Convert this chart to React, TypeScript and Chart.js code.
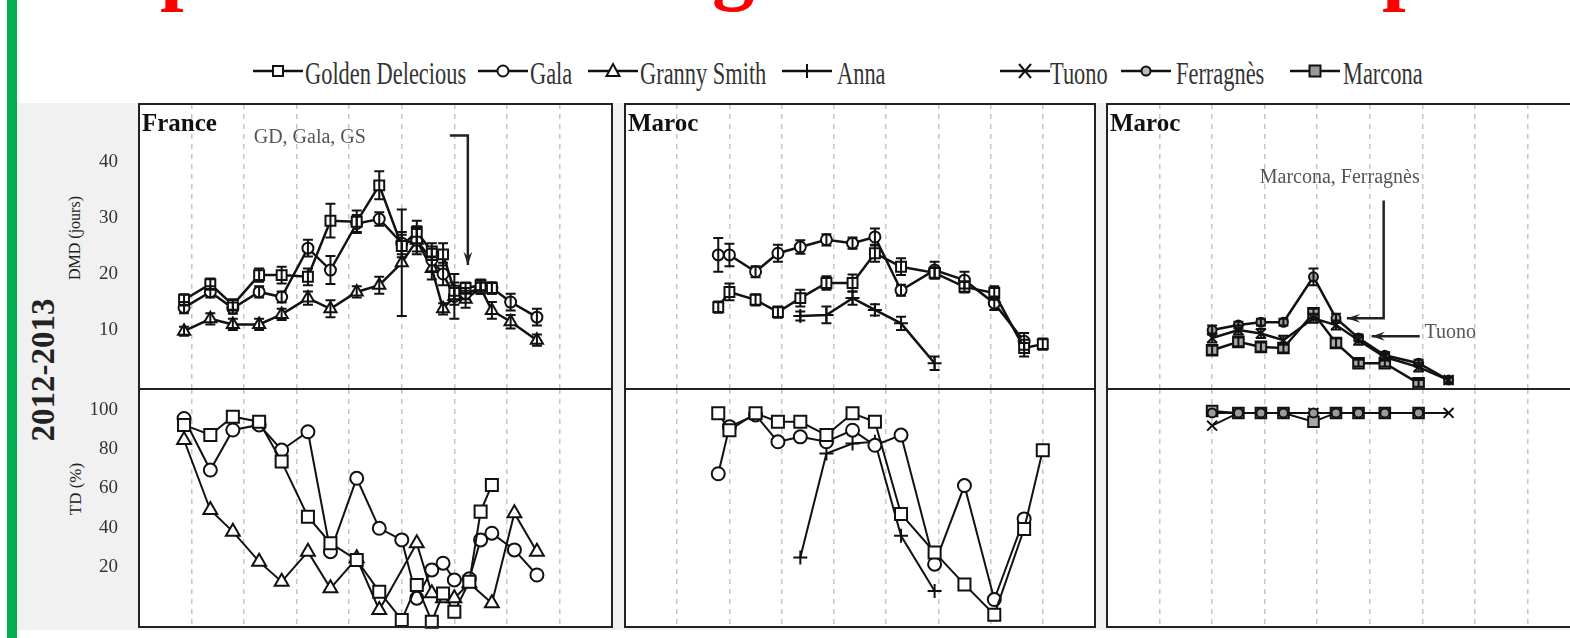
import React, { useEffect, useRef } from "react";
import { Chart, registerables } from "chart.js";

Chart.register(...registerables);
Chart.defaults.font.family = '"Liberation Serif", "Times New Roman", serif';

// ---------- x positions (days) ----------
const FR_DAYS = [12, 19, 25, 32, 38, 45, 51, 58, 64, 70, 74, 78, 81, 84, 87, 91, 94, 99, 106];
const MA_DAYS = [25, 28, 35, 41, 47, 54, 61, 67, 74, 83, 91, 99, 107, 112];
const AL_DAYS = [28, 35, 41, 47, 55, 61, 67, 74, 83, 91];

// ---------- France DMD (jours) ----------
const FR_DMD_GD = [15.4, 18.2, 14.5, 19.8, 19.8, 19.5, 29.5, 29.3, 35.8, 25, 27.5, 24, 23.5, 17, 17.5, 18, 17.5, null, null];
const FR_DMD_GD_ERR = [1, 1, 1, 1.2, 1.5, 1.5, 3, 2, 2.5, 2, 2, 1.5, 2, 1.5, 1, 1, 1, null, null];
const FR_DMD_GALA = [14, 16.8, 13.9, 16.8, 15.9, 24.6, 20.7, 29, 29.8, 25.5, 26, 22.5, 20, 16, 16.5, 17.5, 17.5, 15, 12.3];
const FR_DMD_GALA_ERR = [1, 1, 1, 1, 1, 1.5, 2.5, 1.5, 1.2, 2, 2, 2, 2, 1.5, 1, 1, 1, 1.5, 1.5];
const FR_DMD_GS = [9.8, 12, 11, 11, 12.8, 15.7, 13.8, 16.8, 18, 22, 26, 21, 13.8, 16, 15.5, 17.5, 13.5, 11.5, 8.2];
const FR_DMD_GS_ERR = [0.8, 1, 1, 1, 1, 1.2, 1.5, 1, 1.5, 9.5, 2.5, 2, 1, 4, 1.5, 1, 1.5, 1.2, 1];

// ---------- France TD (%) ----------
const FR_TD_DAYS = [12, 19, 25, 32, 38, 45, 51, 58, 64, 70, 74, 78, 81, 84, 88, 91, 94, 100, 106];
const FR_TD_GD = [92.4, 87.3, 96.6, 94, 73.7, 45.6, 32.1, 23.6, 7.4, -7, 10.8, -7.9, 6.5, -2.8, 12.5, 48.2, 61.8, null, null];
const FR_TD_GALA = [95.7, 69.4, 89.8, 92.4, 79.6, 88.9, 27.8, 65.2, 39.7, 33.8, 4.1, 18.5, 21.9, 13.4, 14, 33.8, 37.2, 28.7, 15.9];
const FR_TD_GS = [84.7, 49, 38, 22.7, 12.5, 27.8, 9.1, 24.4, -1.9, null, 32.1, 6.6, 4, 4.1, 11.7, null, 1.5, 47.4, 27.8];

// ---------- Maroc (pommier) DMD ----------
const MA_DMD_GD = [14.1, 16.8, 15.4, 13.2, 15.7, 18.4, 18.4, 23.7, 21.3, 20.2, 17.7, 16.6, 6.8, 7.5];
const MA_DMD_GD_ERR = [1, 1.5, 1, 1, 1.5, 1.2, 1.5, 1.5, 1.5, 1, 1, 1.2, 1.5, 1];
const MA_DMD_GALA = [23.4, 23.4, 20.4, 23.7, 24.8, 26.1, 25.5, 26.6, 17.1, 20.7, 18.9, 14.8, 8, null];
const MA_DMD_GALA_ERR = [3, 2, 1, 1.5, 1.2, 1, 1, 1.5, 1, 1.5, 1.5, 1.2, 1.5, null];
const MA_DMD_ANNA = [null, null, null, null, 12.5, 12.7, 15.7, 13.6, 11.2, 4.1, null, null, null, null];
const MA_DMD_ANNA_ERR = [null, null, null, null, 0.8, 1.5, 1.2, 1, 1.2, 1.2, null, null, null, null];

// ---------- Maroc (pommier) TD ----------
const MA_TD_GD = [98.3, 89.7, 98.3, 94, 94, 87.2, 98.3, 94, 47, 27.4, 11.1, -4.3, 39.3, 79.5];
const MA_TD_GALA = [67.5, 91.5, 97.5, 83.8, 86.3, 83.8, 89.7, 82, 87.2, 21.4, 61.5, 3.4, 44.5, null];
const MA_TD_ANNA = [null, null, null, null, 24.8, 77.8, 82.9, 83.8, 35.9, 7.7, null, null, null, null];

// ---------- Maroc (amandier) DMD ----------
const AL_DMD_TUONO = [8.6, 10, 9.4, 8.2, 12.1, 10.9, 8.2, 5.2, 3.4, 1.1];
const AL_DMD_TUONO_ERR = [0.8, 0.8, 0.8, 0.8, 0.8, 0.8, 0.8, 0.6, 0.8, 0.5];
const AL_DMD_FERR = [10, 10.9, 11.4, 11.4, 19.5, 12.1, 8.6, 5.5, 4.1, 1.1];
const AL_DMD_FERR_ERR = [0.8, 0.6, 0.6, 0.6, 1.5, 0.8, 0.6, 0.6, 0.6, 0.5];
const AL_DMD_MARC = [6.4, 7.9, 7, 6.8, 13, 7.7, 4.1, 4.1, 0.5, null];
const AL_DMD_MARC_ERR = [0.8, 0.8, 0.8, 0.8, 0.8, 0.8, 0.6, 0.6, 0.6, null];

// ---------- Maroc (amandier) TD ----------
const AL_TD_TUONO = [92, 98.5, 98.5, 98.5, 98.5, 98.5, 98.5, 98.5, 98.5, 98.5];
const AL_TD_FERR = [98.5, 98.5, 98.5, 98.5, 98.5, 98.5, 98.5, 98.5, 98.5, null];
const AL_TD_MARC = [99.5, 98.5, 98.5, 98.5, 94, 98.5, 98.5, 98.5, 98.5, null];

// ---------- axes ----------
const DMD_TICKS = [10, 20, 30, 40];
const TD_TICKS = [20, 40, 60, 80, 100];
const X_MAX = 126;
const X_STEP = 14;

// ---------- styles ----------
type Style = { pointStyle: any; r: number; bg: string };
const ST: Record<string, Style> = {
  gd: { pointStyle: "rect", r: 7, bg: "#fff" },
  gala: { pointStyle: "circle", r: 5.5, bg: "#fff" },
  gs: { pointStyle: "triangle", r: 7, bg: "#fff" },
  anna: { pointStyle: "cross", r: 7, bg: "#fff" },
  tuono: { pointStyle: "crossRot", r: 7, bg: "#fff" },
  ferr: { pointStyle: "circle", r: 4.5, bg: "#9a9a9a" },
  marc: { pointStyle: "rect", r: 7.5, bg: "#a8a8a8" },
};
const ST_TD: Record<string, Style> = {
  ...ST,
  gd: { pointStyle: "rect", r: 8.5, bg: "#fff" },
  gala: { pointStyle: "circle", r: 6.5, bg: "#fff" },
  gs: { pointStyle: "triangle", r: 8, bg: "#fff" },
};

function series(days: number[], vals: (number | null)[], errs: (number | null)[] | null, s: Style, lw: number) {
  const data: any[] = [];
  days.forEach((d, i) => {
    const v = vals[i];
    if (v === null || v === undefined) return;
    data.push({ x: d, y: v, e: errs ? errs[i] : null });
  });
  return {
    data,
    borderColor: "#111",
    borderWidth: lw,
    pointStyle: s.pointStyle,
    pointRadius: s.r,
    pointBackgroundColor: s.bg,
    pointBorderColor: "#111",
    pointBorderWidth: 2,
    tension: 0,
    clip: false as any,
  };
}

const errorBarPlugin = {
  id: "errorBars",
  afterDatasetsDraw(chart: any) {
    const ctx = chart.ctx;
    const xs = chart.scales.x;
    const ys = chart.scales.y;
    ctx.save();
    ctx.strokeStyle = "#111";
    ctx.lineWidth = 2;
    chart.data.datasets.forEach((ds: any) => {
      ds.data.forEach((p: any) => {
        if (p.e === null || p.e === undefined) return;
        const px = xs.getPixelForValue(p.x);
        const y1 = ys.getPixelForValue(p.y + p.e);
        const y2 = ys.getPixelForValue(p.y - p.e);
        ctx.beginPath();
        ctx.moveTo(px, y1);
        ctx.lineTo(px, y2);
        ctx.moveTo(px - 5, y1);
        ctx.lineTo(px + 5, y1);
        ctx.moveTo(px - 5, y2);
        ctx.lineTo(px + 5, y2);
        ctx.stroke();
      });
    });
    ctx.restore();
  },
};

type Note = { text: string; x: number; y: number; align: CanvasTextAlign };
type Arrow = number[][];

function makeDecor(label: string | null, notes: Note[], arrows: Arrow[]) {
  return {
    id: "decor",
    beforeDraw(chart: any) {
      const { ctx, chartArea: a } = chart;
      ctx.save();
      ctx.fillStyle = "#fff";
      ctx.fillRect(a.left, a.top, a.right - a.left, a.bottom - a.top);
      ctx.restore();
    },
    afterDraw(chart: any) {
      const { ctx, chartArea: a } = chart;
      const xs = chart.scales.x;
      const ys = chart.scales.y;
      ctx.save();
      ctx.strokeStyle = "#222";
      ctx.lineWidth = 2;
      ctx.strokeRect(a.left, a.top, a.right - a.left, a.bottom - a.top);
      if (label) {
        ctx.font = 'bold 25px "Liberation Serif"';
        ctx.fillStyle = "#111";
        ctx.textAlign = "left";
        ctx.textBaseline = "alphabetic";
        ctx.fillText(label, a.left + 3, a.top + 27);
      }
      notes.forEach((n) => {
        ctx.font = '20px "Liberation Serif"';
        ctx.fillStyle = "#555";
        ctx.textAlign = n.align;
        ctx.textBaseline = "middle";
        ctx.fillText(n.text, xs.getPixelForValue(n.x), ys.getPixelForValue(n.y));
      });
      arrows.forEach((ar) => {
        const pts = ar.map(([dx, dy]) => [xs.getPixelForValue(dx), ys.getPixelForValue(dy)]);
        ctx.strokeStyle = "#222";
        ctx.fillStyle = "#222";
        ctx.lineWidth = 2.5;
        ctx.beginPath();
        pts.forEach(([px, py], i) => (i ? ctx.lineTo(px, py) : ctx.moveTo(px, py)));
        ctx.stroke();
        const [x1, y1] = pts[pts.length - 2];
        const [x2, y2] = pts[pts.length - 1];
        const ang = Math.atan2(y2 - y1, x2 - x1);
        const L = 14;
        ctx.beginPath();
        ctx.moveTo(x2, y2);
        ctx.lineTo(x2 - L * Math.cos(ang - 0.32), y2 - L * Math.sin(ang - 0.32));
        ctx.lineTo(x2 - L * 0.6 * Math.cos(ang), y2 - L * 0.6 * Math.sin(ang));
        ctx.lineTo(x2 - L * Math.cos(ang + 0.32), y2 - L * Math.sin(ang + 0.32));
        ctx.closePath();
        ctx.fill();
      });
      ctx.restore();
    },
  };
}

const PAD = 3;

type SubProps = {
  left: number;
  top: number;
  width: number;
  height: number;
  axisW: number;
  yMin: number;
  yMax: number;
  ticks: number[];
  datasets: any[];
  label?: string | null;
  notes?: Note[];
  arrows?: Arrow[];
};

function SubChart(p: SubProps) {
  const ref = useRef<HTMLCanvasElement>(null);
  const cw = p.width + p.axisW + 2 * PAD;
  const ch = p.height + 2 * PAD;
  useEffect(() => {
    const chart = new Chart(ref.current as HTMLCanvasElement, {
      type: "line",
      data: { datasets: p.datasets },
      options: {
        responsive: false,
        animation: false,
        events: [],
        layout: { padding: PAD, autoPadding: false },
        plugins: { legend: { display: false }, tooltip: { enabled: false } },
        scales: {
          x: {
            type: "linear",
            min: 0,
            max: X_MAX,
            ticks: { display: false, stepSize: X_STEP },
            grid: { color: "#c6c6c6", lineWidth: 1.5, drawTicks: false },
            border: { display: false, dash: [5, 5] },
            afterFit: (s: any) => {
              s.height = 0;
              s.paddingLeft = 0;
              s.paddingRight = 0;
            },
          },
          y: {
            type: "linear",
            min: p.yMin,
            max: p.yMax,
            display: p.axisW > 0,
            ticks: { color: "#333", font: { size: 19 }, padding: 21 },
            afterBuildTicks: (s: any) => {
              s.ticks = p.ticks.map((v) => ({ value: v }));
            },
            afterFit: (s: any) => {
              s.width = p.axisW;
              s.paddingTop = 0;
              s.paddingBottom = 0;
            },
            grid: { display: false, drawTicks: false },
            border: { display: false },
          },
        },
      } as any,
      plugins: [errorBarPlugin, makeDecor(p.label || null, p.notes || [], p.arrows || [])],
    });
    return () => chart.destroy();
  }, []);
  return (
    <canvas
      ref={ref}
      width={cw}
      height={ch}
      style={{ position: "absolute", left: p.left - p.axisW - PAD, top: p.top - PAD, width: cw, height: ch }}
    />
  );
}

// ---------- legend ----------
function Marker({ kind }: { kind: string }) {
  const line = <line x1={0} y1={10} x2={50} y2={10} stroke="#111" strokeWidth={2.5} />;
  let m: any = null;
  if (kind === "gd") m = <rect x={20} y={5} width={10} height={10} fill="#fff" stroke="#111" strokeWidth={2} />;
  if (kind === "gala") m = <circle cx={25} cy={10} r={5.5} fill="#fff" stroke="#111" strokeWidth={2} />;
  if (kind === "gs") m = <polygon points="25,3 31.5,15 18.5,15" fill="#fff" stroke="#111" strokeWidth={2} />;
  if (kind === "anna") m = <line x1={25} y1={3} x2={25} y2={17} stroke="#111" strokeWidth={2} />;
  if (kind === "tuono")
    m = (
      <g stroke="#111" strokeWidth={2}>
        <line x1={19} y1={3} x2={31} y2={17} />
        <line x1={19} y1={17} x2={31} y2={3} />
      </g>
    );
  if (kind === "ferr") m = <circle cx={25} cy={10} r={4.5} fill="#bbb" stroke="#111" strokeWidth={2} />;
  if (kind === "marc") m = <rect x={19.5} y={4.5} width={11} height={11} fill="#999" stroke="#111" strokeWidth={2} />;
  return (
    <svg width={50} height={20} style={{ display: "block" }}>
      {line}
      {m}
    </svg>
  );
}

const LEGEND_NAMES = ["Golden Delecious", "Gala", "Granny Smith", "Anna", "Tuono", "Ferragnès", "Marcona"];
const LEGEND_KINDS = ["gd", "gala", "gs", "anna", "tuono", "ferr", "marc"];
const LEGEND_MARKER_X = [253, 478, 588, 782, 1000, 1121, 1290];
const LEGEND_TEXT_X = [305, 530, 640, 837, 1050, 1176, 1343];

function Legend() {
  return (
    <>
      {LEGEND_NAMES.map((name, i) => (
        <React.Fragment key={name}>
          <div style={{ position: "absolute", left: LEGEND_MARKER_X[i], top: 61 }}>
            <Marker kind={LEGEND_KINDS[i]} />
          </div>
          <div
            style={{
              position: "absolute",
              left: LEGEND_TEXT_X[i],
              top: 57,
              fontFamily: '"Liberation Serif"',
              fontSize: 32,
              lineHeight: "32px",
              color: "#333",
              whiteSpace: "nowrap",
              transform: "scaleX(0.7)",
              transformOrigin: "0 0",
            }}
          >
            {name}
          </div>
        </React.Fragment>
      ))}
    </>
  );
}

function RotText({ text, cx, cy, size, bold }: { text: string; cx: number; cy: number; size: number; bold?: boolean }) {
  return (
    <div
      style={{
        position: "absolute",
        left: cx,
        top: cy,
        transform: "translate(-50%, -50%) rotate(-90deg)",
        fontFamily: '"Liberation Serif"',
        fontSize: size,
        fontWeight: bold ? "bold" : "normal",
        color: "#222",
        whiteSpace: "nowrap",
        lineHeight: 1,
      }}
    >
      {text}
    </div>
  );
}

const TOP_Y = 104;
const TOP_H = 285;
const BOT_Y = 389;
const BOT_H = 238;
const DMD_MIN = -0.5;
const DMD_MAX = 50.3;
const TD_MIN = -10.6;
const TD_MAX = 110.7;

export default function App() {
  const frTop = [
    series(FR_DAYS, FR_DMD_GD, FR_DMD_GD_ERR, ST.gd, 2.5),
    series(FR_DAYS, FR_DMD_GALA, FR_DMD_GALA_ERR, ST.gala, 2.5),
    series(FR_DAYS, FR_DMD_GS, FR_DMD_GS_ERR, ST.gs, 2.5),
  ];
  const frBot = [
    series(FR_TD_DAYS, FR_TD_GD, null, ST_TD.gd, 2),
    series(FR_TD_DAYS, FR_TD_GALA, null, ST_TD.gala, 2),
    series(FR_TD_DAYS, FR_TD_GS, null, ST_TD.gs, 2),
  ];
  const maTop = [
    series(MA_DAYS, MA_DMD_GD, MA_DMD_GD_ERR, ST.gd, 2.5),
    series(MA_DAYS, MA_DMD_GALA, MA_DMD_GALA_ERR, ST.gala, 2.5),
    series(MA_DAYS, MA_DMD_ANNA, MA_DMD_ANNA_ERR, ST.anna, 2.5),
  ];
  const maBot = [
    series(MA_DAYS, MA_TD_GD, null, ST_TD.gd, 2),
    series(MA_DAYS, MA_TD_GALA, null, ST_TD.gala, 2),
    series(MA_DAYS, MA_TD_ANNA, null, ST_TD.anna, 2),
  ];
  const alTop = [
    series(AL_DAYS, AL_DMD_TUONO, AL_DMD_TUONO_ERR, ST.tuono, 2.5),
    series(AL_DAYS, AL_DMD_FERR, AL_DMD_FERR_ERR, ST.ferr, 2.5),
    series(AL_DAYS, AL_DMD_MARC, AL_DMD_MARC_ERR, ST.marc, 2.5),
  ];
  const alBot = [
    series(AL_DAYS, AL_TD_FERR, null, ST.ferr, 2),
    series(AL_DAYS, AL_TD_MARC, null, ST.marc, 2),
    series(AL_DAYS, AL_TD_TUONO, null, ST.tuono, 2),
  ];

  return (
    <div
      style={{
        position: "absolute",
        left: 0,
        top: 0,
        width: 1570,
        height: 638,
        overflow: "hidden",
        background: "#fff",
      }}
    >
      {/* cropped red title glyphs */}
      {[
        { ch: "p", x: 160 },
        { ch: "g", x: 712 },
        { ch: "p", x: 1382 },
      ].map((g, i) => (
        <span
          key={i}
          style={{
            position: "absolute",
            left: g.x,
            top: -77,
            fontFamily: '"Liberation Serif"',
            fontWeight: "bold",
            fontSize: 85,
            lineHeight: "85px",
            color: "#ff0000",
          }}
        >
          {g.ch}
        </span>
      ))}
      <div style={{ position: "absolute", left: 7, top: 0, width: 10, height: 638, background: "#00b050" }} />
      <div style={{ position: "absolute", left: 17, top: 103, width: 1553, height: 527, background: "#f1f1f1" }} />

      <Legend />

      <RotText text="2012-2013" cx={43} cy={370} size={33} bold />
      <RotText text="DMD (jours)" cx={75} cy={238} size={16} />
      <RotText text="TD (%)" cx={75} cy={489} size={17} />

      <SubChart
        left={139}
        top={TOP_Y}
        width={473}
        height={TOP_H}
        axisW={122}
        yMin={DMD_MIN}
        yMax={DMD_MAX}
        ticks={DMD_TICKS}
        datasets={frTop}
        label="France"
        notes={[{ text: "GD, Gala, GS", x: 45.5, y: 44.3, align: "center" }]}
        arrows={[[[82.8, 44.7], [87.6, 44.7], [87.6, 21.6]]]}
      />
      <SubChart
        left={139}
        top={BOT_Y}
        width={473}
        height={BOT_H}
        axisW={122}
        yMin={TD_MIN}
        yMax={TD_MAX}
        ticks={TD_TICKS}
        datasets={frBot}
      />
      <SubChart
        left={625}
        top={TOP_Y}
        width={470}
        height={TOP_H}
        axisW={0}
        yMin={DMD_MIN}
        yMax={DMD_MAX}
        ticks={DMD_TICKS}
        datasets={maTop}
        label="Maroc"
      />
      <SubChart
        left={625}
        top={BOT_Y}
        width={470}
        height={BOT_H}
        axisW={0}
        yMin={TD_MIN}
        yMax={TD_MAX}
        ticks={TD_TICKS}
        datasets={maBot}
      />
      <SubChart
        left={1107}
        top={TOP_Y}
        width={473}
        height={TOP_H}
        axisW={0}
        yMin={DMD_MIN}
        yMax={DMD_MAX}
        ticks={DMD_TICKS}
        datasets={alTop}
        label="Maroc"
        notes={[
          { text: "Marcona, Ferragnès", x: 62, y: 37.1, align: "center" },
          { text: "Tuono", x: 84.6, y: 9.6, align: "left" },
        ]}
        arrows={[
          [[73.7, 33.1], [73.7, 12.1], [63.9, 12.1]],
          [[83.3, 8.9], [70.5, 8.9]],
        ]}
      />
      <SubChart
        left={1107}
        top={BOT_Y}
        width={473}
        height={BOT_H}
        axisW={0}
        yMin={TD_MIN}
        yMax={TD_MAX}
        ticks={TD_TICKS}
        datasets={alBot}
      />
    </div>
  );
}
